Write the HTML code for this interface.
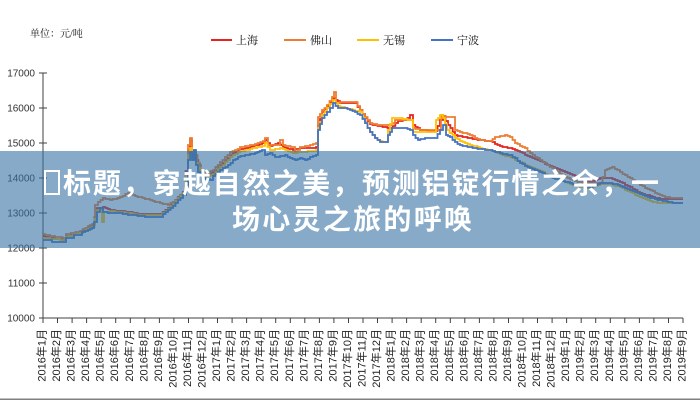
<!DOCTYPE html>
<html><head><meta charset="utf-8"><style>
html,body{margin:0;padding:0;background:#fff;}
svg{display:block;}
.yl{font-family:"Liberation Sans",sans-serif;font-size:10px;fill:#333;}
.xl{font-family:"Liberation Sans","Noto Sans CJK SC",sans-serif;font-size:11px;fill:#222;}
.lg{font-family:"Liberation Serif","Noto Serif CJK SC",serif;font-size:11px;fill:#111;}
.tt{font-family:"Liberation Sans","Noto Sans CJK SC",sans-serif;font-size:28px;font-weight:700;fill:#fff;}
</style></head><body>
<svg width="700" height="400" viewBox="0 0 700 400" xmlns="http://www.w3.org/2000/svg">
<rect width="700" height="400" fill="#fff"/>
<text class="lg" x="30" y="37" style="font-size:10px">单位：元/吨</text>
<line x1="211" y1="40" x2="232" y2="40" stroke="#e8221c" stroke-width="2"/>
<text class="lg" x="236" y="44">上海</text>
<line x1="284" y1="40" x2="306" y2="40" stroke="#ed7d31" stroke-width="2"/>
<text class="lg" x="310" y="44">佛山</text>
<line x1="357" y1="40" x2="379" y2="40" stroke="#ffc000" stroke-width="2"/>
<text class="lg" x="383" y="44">无锡</text>
<line x1="431" y1="40" x2="453" y2="40" stroke="#4472c4" stroke-width="2"/>
<text class="lg" x="457" y="44">宁波</text>

<g class="yl" text-anchor="end">
<text x="35" y="76.5">17000</text>
<text x="35" y="111.5">16000</text>
<text x="35" y="146.5">15000</text>
<text x="35" y="181.5">14000</text>
<text x="35" y="216.5">13000</text>
<text x="35" y="251.5">12000</text>
<text x="35" y="286.5">11000</text>
<text x="35" y="321.5">10000</text>
</g>
<g stroke="#404040" stroke-width="1">
<line x1="43" y1="73" x2="43" y2="318"/>
<line x1="39" y1="73" x2="47" y2="73"/>
<line x1="39" y1="108" x2="47" y2="108"/>
<line x1="39" y1="143" x2="47" y2="143"/>
<line x1="39" y1="178" x2="47" y2="178"/>
<line x1="39" y1="213" x2="47" y2="213"/>
<line x1="39" y1="248" x2="47" y2="248"/>
<line x1="39" y1="283" x2="47" y2="283"/>
<line x1="39" y1="318" x2="683" y2="318"/>
<path d="M43 318v5M57.5 318v5M72.1 318v5M86.6 318v5M101.2 318v5M115.7 318v5M130.3 318v5M144.8 318v5M159.4 318v5M173.9 318v5M188.5 318v5M203 318v5M217.5 318v5M232.1 318v5M246.6 318v5M261.2 318v5M275.7 318v5M290.3 318v5M304.8 318v5M319.4 318v5M333.9 318v5M348.5 318v5M363 318v5M377.5 318v5M392.1 318v5M406.6 318v5M421.2 318v5M435.7 318v5M450.3 318v5M464.8 318v5M479.4 318v5M493.9 318v5M508.5 318v5M523 318v5M537.5 318v5M552.1 318v5M566.6 318v5M581.2 318v5M595.7 318v5M610.3 318v5M624.8 318v5M639.4 318v5M653.9 318v5M668.5 318v5M683 318v5"/>
</g>
<g class="xl" text-anchor="end">
<text transform="translate(45.5,329) rotate(-90)">2016年1月</text>
<text transform="translate(60,329) rotate(-90)">2016年2月</text>
<text transform="translate(74.6,329) rotate(-90)">2016年3月</text>
<text transform="translate(89.1,329) rotate(-90)">2016年4月</text>
<text transform="translate(103.7,329) rotate(-90)">2016年5月</text>
<text transform="translate(118.2,329) rotate(-90)">2016年6月</text>
<text transform="translate(132.8,329) rotate(-90)">2016年7月</text>
<text transform="translate(147.3,329) rotate(-90)">2016年8月</text>
<text transform="translate(161.9,329) rotate(-90)">2016年9月</text>
<text transform="translate(176.4,329) rotate(-90)">2016年10月</text>
<text transform="translate(191,329) rotate(-90)">2016年11月</text>
<text transform="translate(205.5,329) rotate(-90)">2016年12月</text>
<text transform="translate(220,329) rotate(-90)">2017年1月</text>
<text transform="translate(234.6,329) rotate(-90)">2017年2月</text>
<text transform="translate(249.1,329) rotate(-90)">2017年3月</text>
<text transform="translate(263.7,329) rotate(-90)">2017年4月</text>
<text transform="translate(278.2,329) rotate(-90)">2017年5月</text>
<text transform="translate(292.8,329) rotate(-90)">2017年6月</text>
<text transform="translate(307.3,329) rotate(-90)">2017年7月</text>
<text transform="translate(321.9,329) rotate(-90)">2017年8月</text>
<text transform="translate(336.4,329) rotate(-90)">2017年9月</text>
<text transform="translate(351,329) rotate(-90)">2017年10月</text>
<text transform="translate(365.5,329) rotate(-90)">2017年11月</text>
<text transform="translate(380,329) rotate(-90)">2017年12月</text>
<text transform="translate(394.6,329) rotate(-90)">2018年1月</text>
<text transform="translate(409.1,329) rotate(-90)">2018年2月</text>
<text transform="translate(423.7,329) rotate(-90)">2018年3月</text>
<text transform="translate(438.2,329) rotate(-90)">2018年4月</text>
<text transform="translate(452.8,329) rotate(-90)">2018年5月</text>
<text transform="translate(467.3,329) rotate(-90)">2018年6月</text>
<text transform="translate(481.9,329) rotate(-90)">2018年7月</text>
<text transform="translate(496.4,329) rotate(-90)">2018年8月</text>
<text transform="translate(511,329) rotate(-90)">2018年9月</text>
<text transform="translate(525.5,329) rotate(-90)">2018年10月</text>
<text transform="translate(540,329) rotate(-90)">2018年11月</text>
<text transform="translate(554.6,329) rotate(-90)">2018年12月</text>
<text transform="translate(569.1,329) rotate(-90)">2019年1月</text>
<text transform="translate(583.7,329) rotate(-90)">2019年2月</text>
<text transform="translate(598.2,329) rotate(-90)">2019年3月</text>
<text transform="translate(612.8,329) rotate(-90)">2019年4月</text>
<text transform="translate(627.3,329) rotate(-90)">2019年5月</text>
<text transform="translate(641.9,329) rotate(-90)">2019年6月</text>
<text transform="translate(656.4,329) rotate(-90)">2019年7月</text>
<text transform="translate(671,329) rotate(-90)">2019年8月</text>
<text transform="translate(685.5,329) rotate(-90)">2019年9月</text>
</g>

<g fill="none" stroke-width="1.8" stroke-linejoin="miter">
<polyline class="st" stroke="#e8221c" points="43,236 50,238 65,240 66,236 80,233 88,228 92,226 97,208 103,207 110,210 128,212 140,214 160,214 168,208 178,197 183,192 188,150 190,140 192,155 196,160 203,175 213,172 220,165 230,155 238,150 250,147 262,143 265,140 270,146 278,143 283,147 293,150 300,148 310,148 316,147 318,125 322,112 327,106 333,98 340,103 355,103 360,110 365,118 370,124 380,126 390,128 398,121 405,120 410,115 413,125 420,130 435,131 440,120 443,116 448,125 455,135 465,137 480,140 490,141 500,146 510,148 520,152 530,157 540,161 550,166 560,170 570,174 580,178 590,182 600,178 610,178 620,182 630,187 640,193 650,196 660,199 670,199 683,199"/>
<polyline class="st" stroke="#ed7d31" points="43,234 50,236 65,238 66,234 80,231 88,226 92,224 95,205 98,202 103,198 110,200 120,197 128,193 135,196 140,197 150,200 160,203 168,205 175,200 180,195 185,190 188,145 190,138 192,150 195,155 200,170 205,174 213,170 220,162 230,152 235,150 240,147 255,144 263,141 265,138 268,145 277,145 280,140 283,145 293,147 295,152 300,147 310,145 316,143 318,117 322,110 327,105 332,97 334,92 336,103 340,102 355,102 360,110 365,117 370,123 377,125 390,125 395,120 410,120 413,128 420,130 440,130 441,115 445,117 453,117 455,130 470,135 480,140 490,141 495,137 505,135 510,137 515,143 525,148 530,153 540,160 547,165 555,170 565,177 575,181 585,183 600,183 605,170 612,167 620,172 630,178 640,185 650,190 660,195 670,198 683,198"/>
<polyline class="st" stroke="#ffc000" points="43,238 65,240 66,237 80,233 88,229 92,227 97,210 100,209 102,222 104,212 110,211 128,213 140,215 160,215 168,209 178,198 183,193 188,155 190,148 192,157 196,163 203,177 213,174 220,167 230,157 238,152 250,149 262,146 265,143 270,150 280,148 293,153 300,152 310,151 316,150 318,128 322,115 327,108 333,100 338,106 345,108 360,112 365,123 370,132 375,138 380,141 385,142 388,130 392,118 400,118 410,120 413,132 420,132 433,132 436,120 440,115 443,118 447,130 455,138 465,143 480,148 490,150 500,154 510,157 520,162 530,167 540,171 550,176 560,180 570,184 580,187 590,188 600,184 610,184 620,187 630,192 640,197 650,201 660,203 670,203 683,203"/>
<polyline class="st" stroke="#4472c4" points="43,240 50,240 52,242 65,242 66,238 72,238 74,235 80,235 82,232 88,230 92,228 94,222 97,212 100,208 103,212 110,213 120,213 128,215 135,215 140,216 150,217 160,217 163,214 168,210 173,206 178,200 183,195 186,185 188,160 190,152 192,160 194,150 196,165 198,172 203,178 210,180 213,176 220,170 228,165 233,160 238,157 245,155 255,153 262,150 265,155 270,153 275,157 285,155 290,158 295,160 300,158 305,160 310,157 316,155 318,130 322,118 327,112 333,103 338,108 345,108 355,112 360,115 365,123 370,132 375,138 380,142 385,142 388,135 392,128 398,128 405,128 410,130 413,135 418,140 425,138 435,138 440,130 443,125 446,135 450,137 455,142 460,145 470,147 480,149 490,150 500,153 510,155 515,158 520,163 530,168 540,172 550,177 560,180 570,183 580,185 590,187 600,183 610,183 618,185 625,188 635,192 645,196 655,199 665,201 675,203 683,203"/>
</g>

<rect x="0" y="151" width="700" height="97" fill="rgb(53,113,163)" fill-opacity="0.6"/>
<rect x="45" y="171" width="14" height="23" fill="none" stroke="#fff" stroke-width="2"/>
<text class="tt" x="63" y="193" textLength="596" lengthAdjust="spacing">标题，穿越自然之美，预测铝锭行情之余，一</text>
<text class="tt" x="232" y="229" textLength="240" lengthAdjust="spacing">场心灵之旅的呼唤</text>

<rect x="0" y="398.5" width="700" height="1.5" fill="#808080"/>
</svg>
<script>
(function(){
  var pls=document.querySelectorAll('polyline.st');
  for(var k=0;k<pls.length;k++){
    var pl=pls[k];
    var pts=pl.getAttribute('points').trim().split(/\s+/).map(function(s){var a=s.split(',');return [+a[0],+a[1]];});
    var out=[];
    for(var i=0;i<pts.length;i++){
      var p=pts[i];
      if(i===0){out.push(p);continue;}
      var q=pts[i-1];
      var dx=p[0]-q[0], dy=p[1]-q[1];
      var n=Math.max(1,Math.round(Math.abs(dx)/2.5));
      for(var j=1;j<=n;j++){
        var x=q[0]+dx*j/n;
        var y=Math.round(q[1]+dy*j/n);
        var prev=out[out.length-1];
        out.push([x,prev[1]]);
        out.push([x,y]);
      }
    }
    pl.setAttribute('points',out.map(function(p){return p[0].toFixed(2)+','+p[1];}).join(' '));
  }
})();
</script>
</body></html>
